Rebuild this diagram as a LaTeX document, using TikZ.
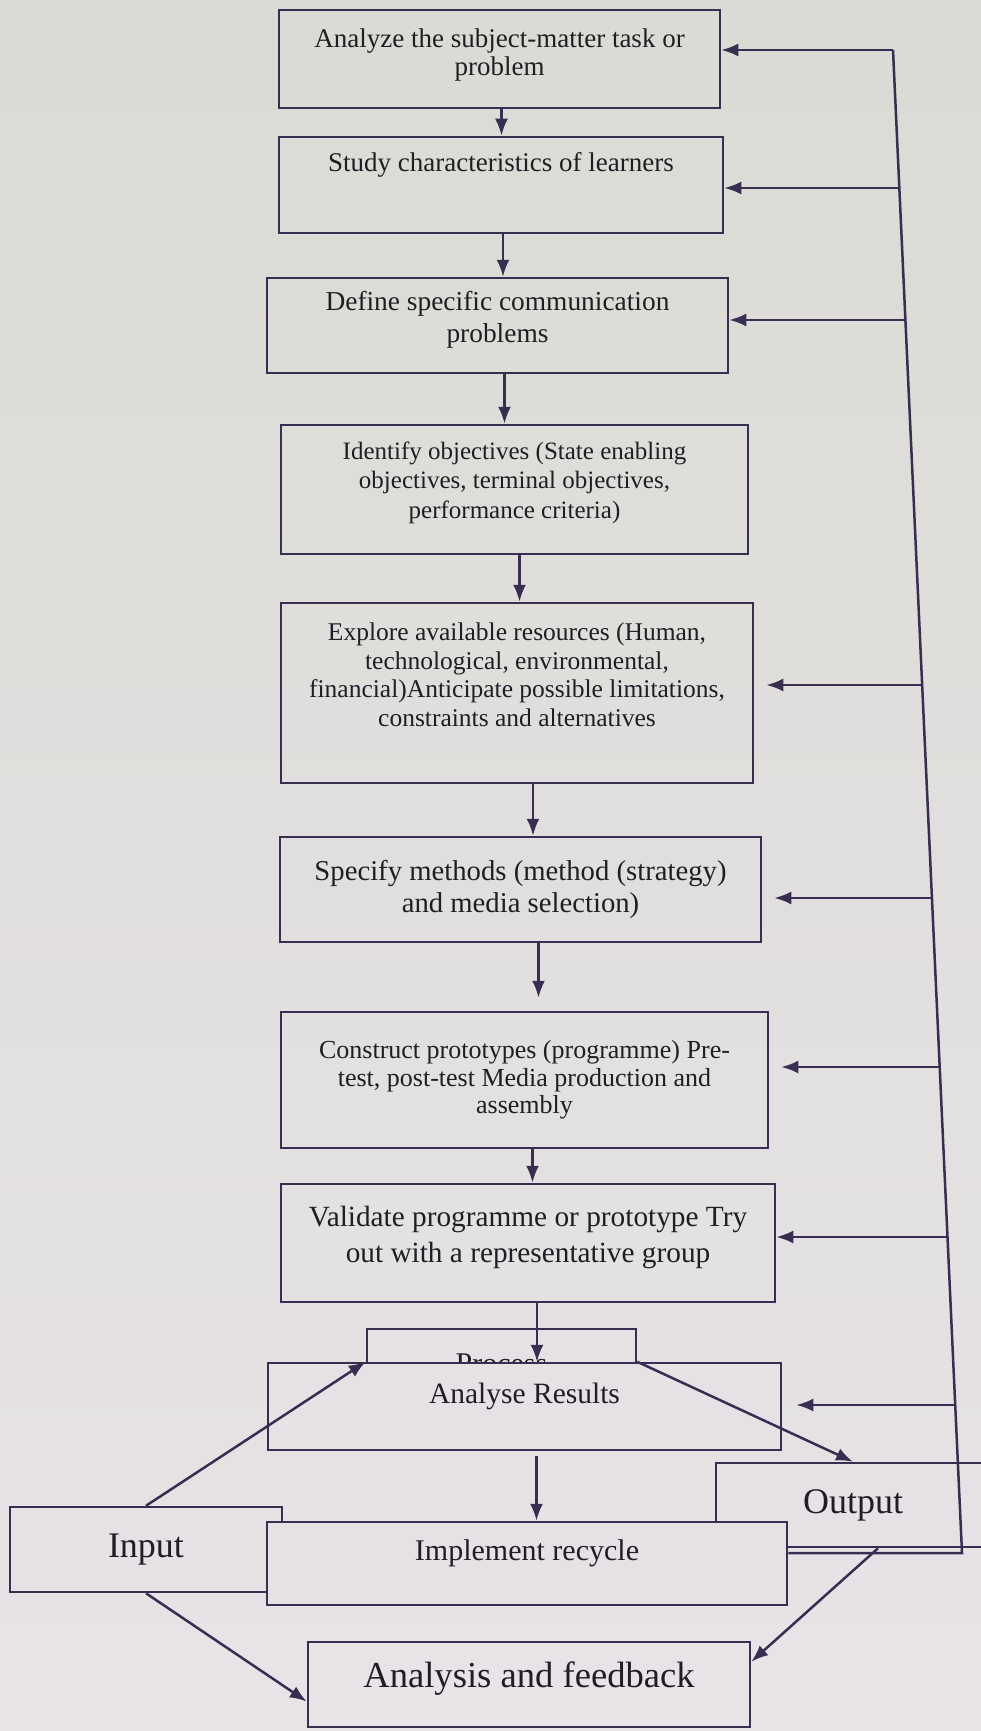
\documentclass[tikz,border=0pt]{standalone}
\usepackage{fontspec}
\setmainfont{Liberation Serif}
\usetikzlibrary{arrows.meta,calc}

\definecolor{papertop}{RGB}{218,219,212}
\definecolor{paperbot}{RGB}{232,227,231}
\definecolor{paper}{RGB}{229,225,228}
\definecolor{ink}{RGB}{55,46,82}
\definecolor{print}{RGB}{32,30,36}

\newcommand\fs[2]{\fontsize{#1}{#2}\selectfont}

\begin{document}
\begin{tikzpicture}[x=1pt,y=-1pt,>={Latex[length=17pt,width=13pt]},
    stage/.style={draw=ink, line width=2.5pt, text=print, align=center, inner sep=0pt},
    front/.style={fill=paper},
    wire/.style={draw=ink, line width=2.5pt},
    flow/.style={wire, ->}]

\shade[top color=papertop, bottom color=paperbot] (0,0) rectangle (981,1731);
\useasboundingbox (0,0) rectangle (981,1731);
\clip (0,0) rectangle (981,1731);

% boxes that sit behind others
\node[stage, front, minimum width=269pt, minimum height=70pt, font=\fs{30}{33}] (process) at (501.5,1364) {Process};
\node[stage, front, minimum width=274pt, minimum height=84pt, font=\fs{36}{40}] (output) at (853,1505) {Output};
\node[stage, front, minimum width=272pt, minimum height=85pt, font=\fs{36}{40}] (input) at (146,1549.5) {Input};

% main column
\node[stage, minimum width=441pt, minimum height=98pt, font=\fs{27}{28}, text depth=14pt] (analyze) at (499.5,59) {Analyze the subject-matter task or\\problem};
\node[stage, minimum width=444pt, minimum height=96pt, font=\fs{27}{30}, text depth=46pt] (study) at (501,185) {Study characteristics of learners};
\node[stage, minimum width=461pt, minimum height=95pt, font=\fs{27.4}{32}, text depth=18pt] (define) at (497.5,325.5) {Define specific communication\\problems};
\node[stage, minimum width=467pt, minimum height=129pt, font=\fs{25}{29.5}, text depth=19pt] (identify) at (514.5,489.5) {Identify objectives (State enabling\\objectives, terminal objectives,\\performance criteria)};
\node[stage, minimum width=472pt, minimum height=180pt, font=\fs{25.5}{28.5}, text depth=37pt] (explore) at (517,693) {Explore available resources (Human,\\technological, environmental,\\financial)Anticipate possible limitations,\\constraints and alternatives};
\node[stage, minimum width=481pt, minimum height=105pt, font=\fs{28.7}{32}] (specify) at (520.5,889.5) {Specify methods (method (strategy)\\and media selection)};
\node[stage, minimum width=487pt, minimum height=136pt, font=\fs{26}{27.5}] (construct) at (524.5,1080) {Construct prototypes (programme) Pre-\\test, post-test Media production and\\assembly};
\node[stage, minimum width=494pt, minimum height=118pt, font=\fs{29.3}{36}, text depth=18pt] (validate) at (528,1243) {Validate programme or prototype Try\\out with a representative group};
\node[stage, front, minimum width=513pt, minimum height=87pt, font=\fs{29.5}{32}, text depth=26pt] (ar) at (524.5,1406.5) {Analyse Results};
\node[stage, front, minimum width=520pt, minimum height=83pt, font=\fs{30}{33}, text depth=26pt] (implement) at (527,1563.5) {Implement recycle};
\node[stage, minimum width=442pt, minimum height=85pt, font=\fs{36.6}{40}, text depth=20pt] (analysis) at (529,1684.5) {Analysis and feedback};

% downward flow
\foreach \a/\b/\s in {analyze/study/2, study/define/2, define/identify/7, identify/explore/5,
                      explore/specify/16, construct/validate/8, validate/ar/9}
  \draw[flow] ([xshift=\s pt]\a.south) -- ([xshift=\s pt]\a.south |- \b.north);
\draw[flow, shorten >=13pt] ([xshift=18pt]specify.south) -- ([xshift=18pt]specify.south |- construct.north);
\draw[flow, shorten <=5pt] ([xshift=12pt]ar.south) -- ([xshift=12pt]ar.south |- implement.north);

% process loop
\draw[flow] (input.north) -- (ar.north -| process.west);
\draw[flow] (ar.north -| process.east) -- (output.north);
\draw[flow] ([xshift=25pt]output.south) -- ([yshift=-21pt]analysis.north east);
\draw[flow] (input.south) -- ([yshift=-17pt]analysis.west);

% feedback line
\coordinate (bustop) at (893,50);
\coordinate (busbot) at (962,1553);
\draw[wire] (implement.east |- busbot) -- (busbot) -- (bustop);
\foreach \n/\y/\g in {analyze/50/0, study/188/0, define/320/0, explore/685/12,
                      specify/898/12, construct/1067/12, validate/1237/0, ar/1405/14}
  \draw[flow, shorten >=\g pt] ($(bustop)!{(\y-50)/1503}!(busbot)$) coordinate (tap) -- (tap -| \n.east);

\end{tikzpicture}
\end{document}
